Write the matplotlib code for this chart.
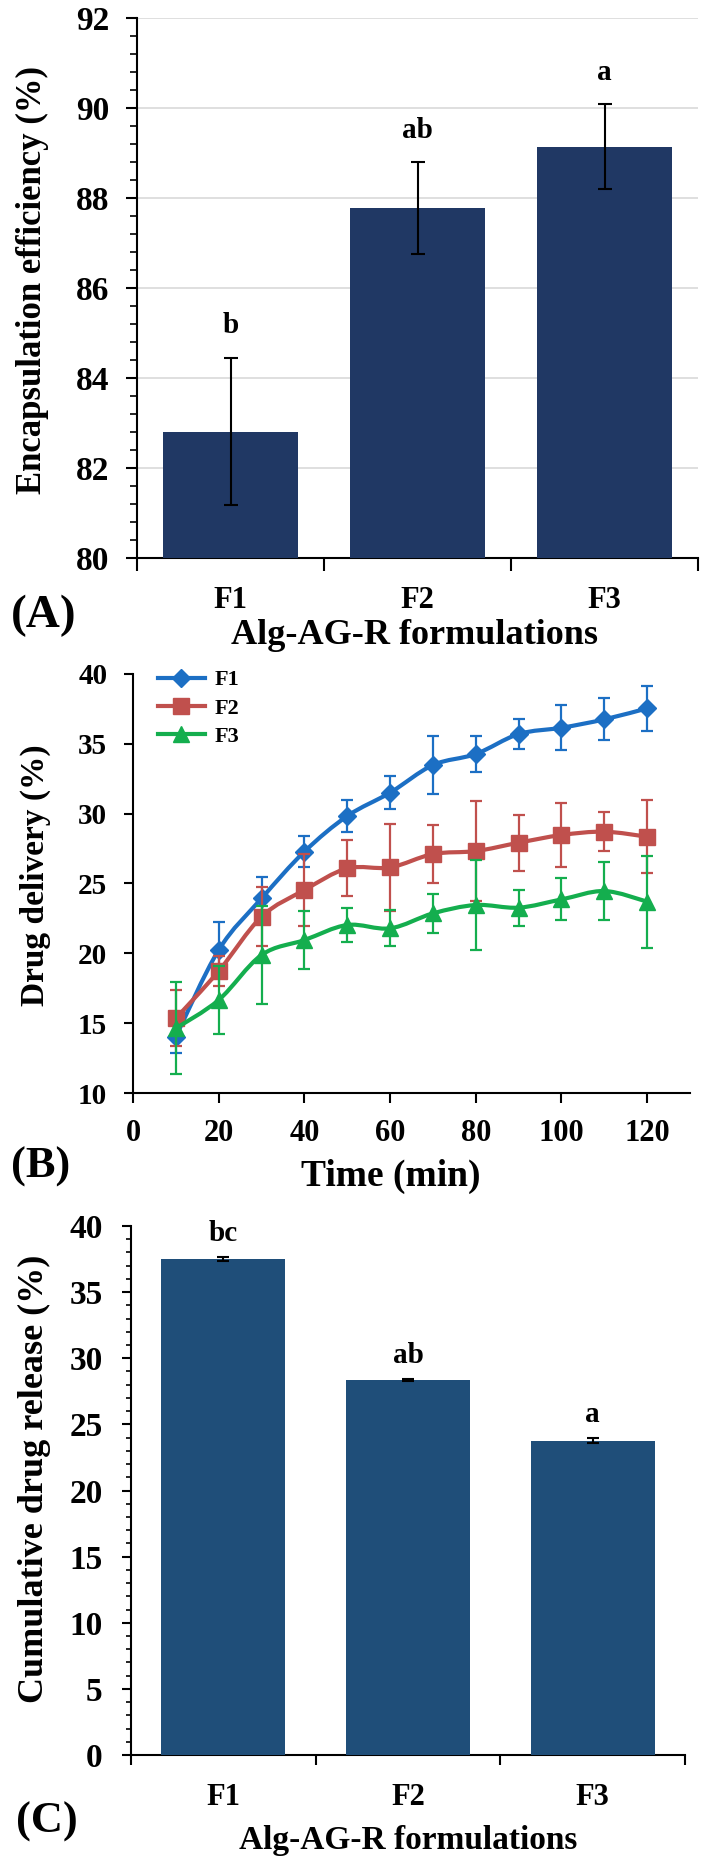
import matplotlib
matplotlib.use("Agg")
import matplotlib.pyplot as plt
from matplotlib.path import Path
from matplotlib.patches import PathPatch
from matplotlib.lines import Line2D
import numpy as np

# ---------------- data ----------------
formulations = ["F1", "F2", "F3"]

# Panel A: encapsulation efficiency
ee_mean = [82.81, 87.77, 89.14]
ee_err = [1.63, 1.02, 0.94]
ee_letters = ["b", "ab", "a"]

# Panel B: drug delivery over time
time_min = [10, 20, 30, 40, 50, 60, 70, 80, 90, 100, 110, 120]
f1_mean = [14.03, 20.24, 23.93, 27.28, 29.83, 31.50, 33.48, 34.27, 35.70, 36.15, 36.75, 37.54]
f1_err = [1.2, 2.0, 1.5, 1.1, 1.15, 1.2, 2.1, 1.3, 1.1, 1.6, 1.5, 1.6]
f2_mean = [15.35, 18.73, 22.62, 24.53, 26.08, 26.15, 27.11, 27.32, 27.92, 28.47, 28.71, 28.35]
f2_err = [2.0, 1.1, 2.1, 2.6, 2.0, 3.1, 2.1, 3.6, 2.0, 2.3, 1.4, 2.6]
f3_mean = [14.63, 16.66, 19.88, 20.95, 22.03, 21.79, 22.86, 23.46, 23.27, 23.86, 24.46, 23.70]
f3_err = [3.3, 2.4, 3.5, 2.1, 1.2, 1.3, 1.4, 3.2, 1.3, 1.5, 2.1, 3.3]

# Panel C: cumulative drug release
cdr_mean = [37.52, 28.36, 23.78]
cdr_err = [0.15, 0.10, 0.20]
cdr_letters = ["bc", "ab", "a"]

# ---------------- style ----------------
FONT = "Liberation Serif"
plt.rcParams["font.family"] = [FONT, "DejaVu Serif"]
plt.rcParams["font.weight"] = "bold"

W, H = 708, 1860
fig = plt.figure(figsize=(W / 100, H / 100), dpi=100)


def axes_px(left, right, top, bottom):
    return fig.add_axes([left / W, 1 - bottom / H, (right - left) / W, (bottom - top) / H])


def ftext(x, y, s, size, rot=0):
    fig.text(x / W, 1 - y / H, s, fontsize=size, fontweight="bold", rotation=rot,
             ha="center", va="center", family=FONT)


def base_spines(ax):
    for sp in ["top", "right"]:
        ax.spines[sp].set_visible(False)
    for sp in ["left", "bottom"]:
        ax.spines[sp].set_linewidth(1.5)
        ax.spines[sp].set_color("black")


def smooth_path(xs, ys):
    """Excel-like smoothed line: cubic Bezier segments through the data points."""
    pts = np.column_stack([xs, ys]).astype(float)
    n = len(pts)
    verts = [pts[0]]
    codes = [Path.MOVETO]
    for i in range(n - 1):
        p0 = pts[i - 1] if i > 0 else pts[i]
        p1 = pts[i]
        p2 = pts[i + 1]
        p3 = pts[i + 2] if i + 2 < n else pts[i + 1]
        c1 = p1 + (p2 - p0) / 6.0
        c2 = p2 - (p3 - p1) / 6.0
        verts += [c1, c2, p2]
        codes += [Path.CURVE4] * 3
    return Path(verts, codes)


# ---------------- Panel A ----------------
axA = axes_px(137, 698, 18, 558)
xpos = np.arange(1, len(formulations) + 1)
axA.bar(xpos, [m - 80 for m in ee_mean], bottom=80, width=0.72, color="#203864", zorder=3)
axA.errorbar(xpos, ee_mean, yerr=ee_err, fmt="none", ecolor="black", elinewidth=1.5,
             capsize=5, capthick=1.5, zorder=4)
for x, m, e, lab in zip(xpos, ee_mean, ee_err, ee_letters):
    axA.text(x, m + e + 0.55, lab, ha="center", va="baseline", fontsize=21, fontweight="bold")
axA.set_xlim(0.5, 3.5)
axA.set_ylim(80, 92)
axA.set_yticks(np.arange(80, 92.1, 2))
axA.set_yticks(np.arange(80, 92.1, 0.4), minor=True)
axA.yaxis.grid(True, which="major", color="#D9D9D9", lw=1.2, zorder=0)
axA.set_axisbelow(True)
axA.set_xticks(xpos)
axA.set_xticklabels(formulations)
axA.set_xticks([0.5, 1.5, 2.5, 3.5], minor=True)
axA.tick_params(axis="x", which="major", length=0, pad=20, labelsize=22)
axA.tick_params(axis="x", which="minor", length=9, width=1.5, direction="out")
axA.tick_params(axis="y", which="major", length=8, width=1.5, pad=12, labelsize=24)
axA.tick_params(axis="y", which="minor", length=5, width=1.2)
base_spines(axA)
ftext(32, 280, "Encapsulation efficiency (%)", 25, rot=90)
ftext(415, 635, "Alg-AG-R formulations", 26)
ftext(44, 616, "(A)", 34)

# ---------------- Panel B ----------------
axB = axes_px(133, 690, 674, 1093)
series = [
    ("F1", f1_mean, f1_err, "#1C6FC4", "D", 9),
    ("F2", f2_mean, f2_err, "#C0504D", "s", 11),
    ("F3", f3_mean, f3_err, "#14AE4E", "^", 12),
]
handles = []
for k, (name, m, e, c, mk, ms) in enumerate(series):
    z = 3 + k
    axB.add_patch(PathPatch(smooth_path(time_min, m), fill=False, edgecolor=c, lw=3,
                            capstyle="round", joinstyle="round", zorder=z))
    axB.errorbar(time_min, m, yerr=e, fmt="none", ecolor=c, elinewidth=1.6,
                 capsize=4, capthick=1.6, zorder=z)
    axB.plot(time_min, m, ls="none", marker=mk, ms=ms, color=c, zorder=z + 0.5)
    handles.append(Line2D([], [], color=c, lw=3, marker=mk, ms=ms, label=name))
axB.set_xlim(0, 130)
axB.set_ylim(10, 40)
axB.set_xticks(np.arange(0, 121, 20))
axB.set_yticks(np.arange(10, 41, 5))
axB.tick_params(axis="x", length=7, width=1.5, pad=12, labelsize=22)
axB.tick_params(axis="y", length=6.5, width=1.5, pad=12, labelsize=21)
base_spines(axB)
axB.legend(handles=handles, loc="upper left", bbox_to_anchor=(0.045, 1.01), frameon=False,
           fontsize=16, handlelength=2.1, handletextpad=0.45, labelspacing=0.35,
           borderpad=0, borderaxespad=0)
ftext(35, 875, "Drug delivery (%)", 24, rot=90)
ftext(391, 1176, "Time (min)", 27)
ftext(41, 1167, "(B)", 32)

# ---------------- Panel C ----------------
axC = axes_px(131, 685, 1226, 1755)
axC.bar(xpos, cdr_mean, width=0.67, color="#1F4E79", zorder=3)
axC.errorbar(xpos, cdr_mean, yerr=cdr_err, fmt="none", ecolor="black", elinewidth=1.5,
             capsize=4, capthick=1.5, zorder=4)
for x, m, e, lab in zip(xpos, cdr_mean, cdr_err, cdr_letters):
    axC.text(x, m + e + 1.2, lab, ha="center", va="baseline", fontsize=21, fontweight="bold")
axC.set_xlim(0.5, 3.5)
axC.set_ylim(0, 40)
axC.set_yticks(np.arange(0, 41, 5))
axC.set_yticks(np.arange(0, 41, 1), minor=True)
axC.set_xticks(xpos)
axC.set_xticklabels(formulations)
axC.set_xticks([0.5, 1.5, 2.5, 3.5], minor=True)
axC.tick_params(axis="x", which="major", length=0, pad=20, labelsize=22)
axC.tick_params(axis="x", which="minor", length=7.5, width=1.5, direction="out")
axC.tick_params(axis="y", which="major", length=6.5, width=1.5, pad=14, labelsize=24)
axC.tick_params(axis="y", which="minor", length=3.5, width=1.2)
base_spines(axC)
ftext(34, 1479, "Cumulative drug release (%)", 26, rot=90)
ftext(408, 1840, "Alg-AG-R formulations", 24)
ftext(47, 1822, "(C)", 32)

fig.savefig("out.png", dpi=100)
